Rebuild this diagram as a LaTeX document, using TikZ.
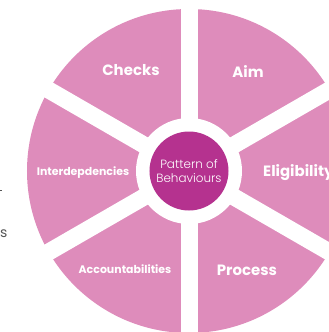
\documentclass[tikz,border=0pt]{standalone}
\usepackage{fontspec}
\setmainfont{Poppins}
\newfontfamily\handfont{Poppins Light}
\definecolor{petal}{RGB}{222,140,187}
\definecolor{hub}{RGB}{181,50,143}
\definecolor{sidegray}{RGB}{85,85,85}

\begin{document}
\begin{tikzpicture}[x=1bp,y=-1bp,
  petallabel/.style={text=white,font=\bfseries\fontsize{15}{18}\selectfont,inner sep=0},
  smalllabel/.style={text=white,font=\bfseries\fontsize{11}{13}\selectfont,inner sep=0}]
  \useasboundingbox (0,0) rectangle (329,332);
  \clip (0,0) rectangle (329,332);
  \coordinate (c) at (189,171);
  % pink wheel split into six petals by white spokes
  \fill[petal] (c) circle[radius=162bp];
  \foreach \a in {30,90,...,330}
    \draw[white,line width=17bp] (c) -- ++(\a:175);
  \fill[white] (c) circle[radius=53bp];
  % hub
  \node[circle,fill=hub,minimum size=79bp,inner sep=0,text=white,align=center,
        font=\handfont\fontsize{12}{14}\selectfont] (hubnode) at (c) {Pattern of\\Behaviours};
  % petal labels
  \node[petallabel] (checks) at (131,70) {Checks};
  \node[petallabel] (aim) at (248,72) {Aim};
  \node[petallabel,anchor=west] (elig) at (263,173) {Eligibility};
  \node[petallabel] (process) at (247,270) {Process};
  \node[smalllabel] (acc) at (125,269) {Accountabilities};
  \node[smalllabel] (inter) at (83,173) {Interdepdencies};
  % text cut off at the left edge
  \fill[sidegray] (0,189.5) rectangle (2,191);
  \node[text=sidegray,font=\fontsize{14}{16}\selectfont,anchor=west,inner sep=0] (sideS) at (0,234) {s};
\end{tikzpicture}
\end{document}
